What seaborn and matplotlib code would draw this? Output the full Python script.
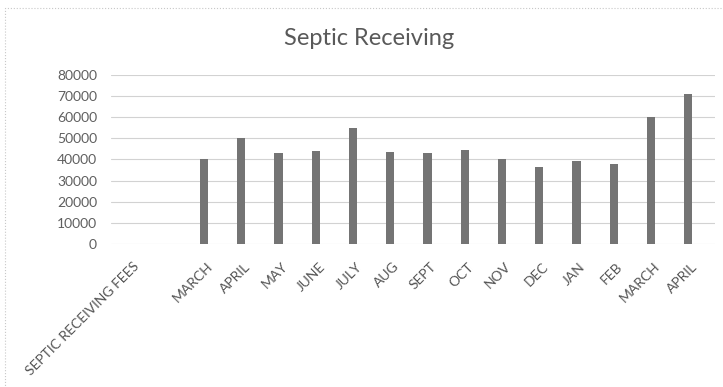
import matplotlib
matplotlib.use("Agg")
import matplotlib.pyplot as plt
from matplotlib.patches import Rectangle
from matplotlib.transforms import ScaledTranslation
import seaborn as sns
import pandas as pd

# Monthly septic receiving fees
categories = ["SEPTIC RECEIVING FEES", "", "MARCH", "APRIL", "MAY", "JUNE", "JULY",
              "AUG", "SEPT", "OCT", "NOV", "DEC", "JAN", "FEB", "MARCH", "APRIL"]
fees = [0, 0, 40000, 50000, 43000, 44000, 55000, 43600, 43000, 44400,
        40300, 36600, 39500, 38000, 60000, 71200]
y_ticks = [0, 10000, 20000, 30000, 40000, 50000, 60000, 70000, 80000]

sns.set_theme(style="white")
plt.rcParams["font.family"] = ["Lato", "DejaVu Sans"]

W, H = 723, 387
fig = plt.figure(figsize=(W / 100, H / 100), dpi=100)
fig.patch.set_facecolor("white")

left_px, right_px, top_px, bottom_px = 111, 715, 75, 244
ax = fig.add_axes([left_px / W, 1 - bottom_px / H,
                   (right_px - left_px) / W, (bottom_px - top_px) / H])

df = pd.DataFrame({"pos": list(range(len(fees))), "fee": fees})
sns.barplot(data=df, x="pos", y="fee", ax=ax, color="#747474", saturation=1,
            width=0.22, linewidth=0, errorbar=None)

ax.set_ylim(0, 80000)
ax.set_xlim(-0.5, 15.72)
ax.set_yticks(y_ticks)
ax.set_yticklabels([str(v) for v in y_ticks], fontsize=10, color="#5f5f5f")
ax.set_xticks(range(len(categories)))
ax.set_xticklabels(categories, rotation=45, ha="right", va="center",
                   rotation_mode="anchor", fontsize=10, color="#555555")
ax.tick_params(axis="both", length=0)
ax.tick_params(axis="y", pad=10)
ax.tick_params(axis="x", pad=12)

# nudge the slanted month labels to sit just right of each bar
shift = ScaledTranslation(7 / 100, -4 / 100, fig.dpi_scale_trans)
for lbl in ax.get_xticklabels():
    lbl.set_transform(lbl.get_transform() + shift)

ax.set_xlabel("")
ax.set_ylabel("")
ax.yaxis.grid(True, color="#d2d2d2", linewidth=0.8)
ax.xaxis.grid(False)
ax.set_axisbelow(True)
for s in ax.spines.values():
    s.set_visible(False)

# chart title
fig.text(369 / W, 1 - 45 / H, "Septic Receiving", ha="center", va="baseline",
         fontsize=17, color="#595959")

# dotted chart-area border
fig.add_artist(Rectangle((5 / W, -0.05), 1.1, 1 - 8 / H + 0.05,
                         transform=fig.transFigure, fill=False,
                         edgecolor="#c8c8c8", linewidth=0.8, linestyle=":"))

fig.savefig("out.png", dpi=100, facecolor="white")
